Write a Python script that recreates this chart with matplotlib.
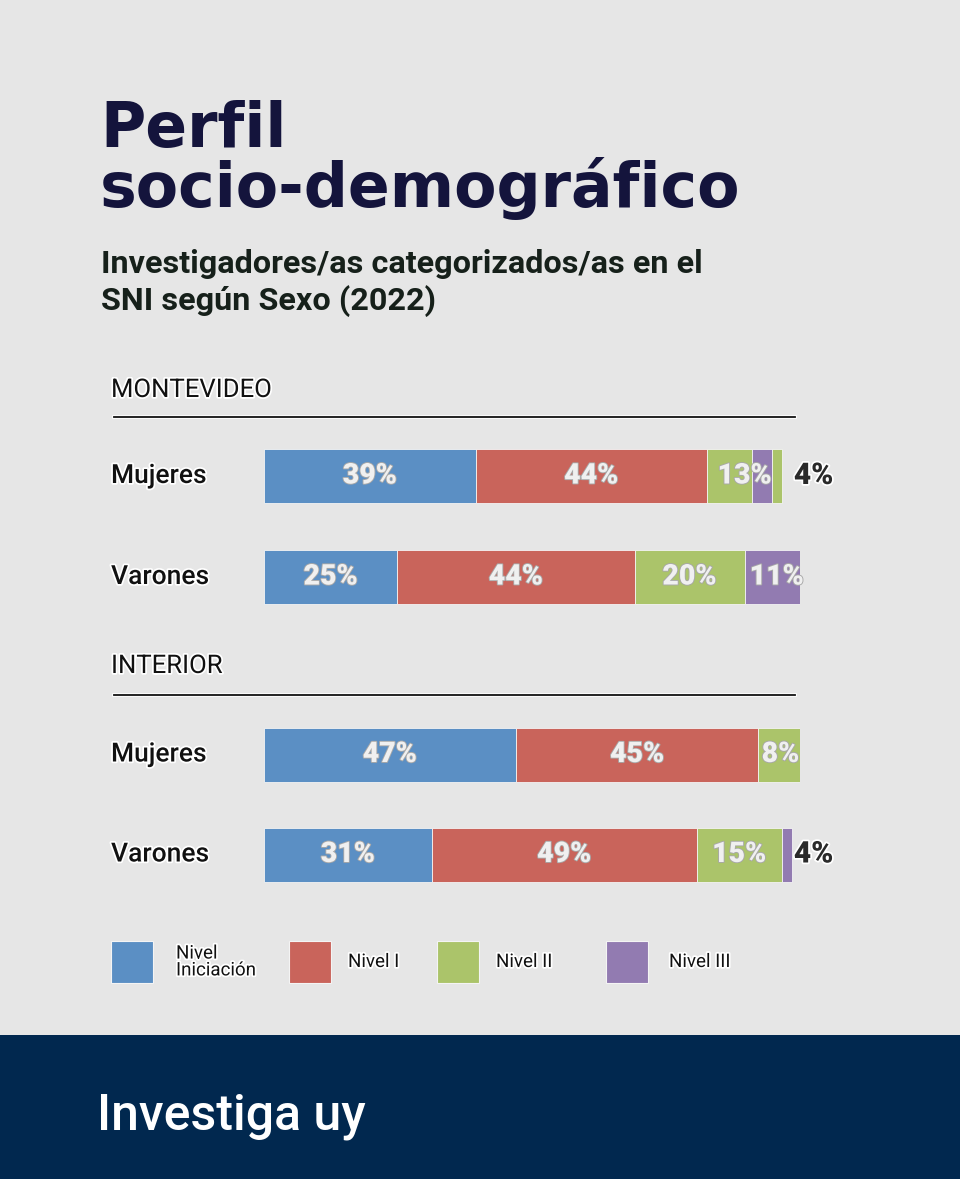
import matplotlib
matplotlib.use("Agg")
import matplotlib.pyplot as plt
from matplotlib.patches import Rectangle
import matplotlib.patheffects as pe

# ---------------- data ----------------
regions = ["MONTEVIDEO", "INTERIOR"]
sexes = ["Mujeres", "Varones"]
# bar segment lengths as drawn (percent), rows: MVD-Muj, MVD-Var, INT-Muj, INT-Var
iniciacion = [39.5, 24.9, 47.0, 31.3]
nivel_1 = [43.1, 44.2, 45.2, 49.4]
nivel_2 = [8.4, 20.5, 8.2, 15.8]
nivel_3 = [3.7, 10.4, 0.0, 1.9]
nivel_2_tail = [1.9, 0.0, 0.0, 0.0]   # extra green sliver drawn after Nivel III
# labels printed on the bars
lab_ini = ["39%", "25%", "47%", "31%"]
lab_n1 = ["44%", "44%", "45%", "49%"]
lab_n2 = ["13%", "20%", "8%", "15%"]
lab_n3 = ["4%", "11%", "", "4%"]
lab_n3_outside = [True, False, False, True]
legend_labels = ["Nivel\nIniciación", "Nivel I", "Nivel II", "Nivel III"]

title_lines = ["Perfil", "socio-demográfico"]
subtitle_lines = ["Investigadores/as categorizados/as en el", "SNI según Sexo (2022)"]
footer = "Investiga uy"

# ---------------- style ----------------
W, H = 960, 1179
BG = "#e6e6e6"
C_INI, C_N1, C_N2, C_N3 = "#5b8fc4", "#c9645b", "#abc46a", "#927bb1"
colors = [C_INI, C_N1, C_N2, C_N3]
NAVY = "#14143c"
FOOT = "#01284f"
TITLE_FONT = ["DejaVu Sans"]
COND_FONT = ["Roboto", "DejaVu Sans"]
HEAVY_FONT = ["Roboto", "DejaVu Sans"]


def fx(px):
    return px / W


def fy(py):
    return 1 - py / H


fig = plt.figure(figsize=(W / 100, H / 100), dpi=100, facecolor=BG)

halo = [pe.withStroke(linewidth=2.5, foreground="white")]

# title & subtitle
for line, yb in zip(title_lines, [147, 207]):
    fig.text(fx(100), fy(yb), line, fontsize=44.5, fontweight="bold",
             family=TITLE_FONT, color=NAVY, va="baseline", ha="left")
for line, yb in zip(subtitle_lines, [273, 310]):
    fig.text(fx(101), fy(yb), line, fontsize=23.3, fontweight="bold",
             family=COND_FONT, color="#16201a", va="baseline", ha="left")

# bars: two axes, one per region
x0_px, x100_px = 263.8, 800.3
row_centers = [[476, 577], [754.5, 854.5]]
header_base = [397, 673]
rule_y = [417, 695]
bar_h_px = 54

for r, region in enumerate(regions):
    c0, c1 = row_centers[r]
    sp = c1 - c0
    top = c0 - sp / 2
    bot = c1 + sp / 2
    ax = fig.add_axes([fx(x0_px), fy(bot), fx(x100_px) - fx(x0_px), (bot - top) / H])
    ax.set_xlim(0, 100)
    ax.set_ylim(1.5, -0.5)
    ax.axis("off")
    ax.patch.set_alpha(0)
    bh = bar_h_px / sp
    for j in range(2):
        i = r * 2 + j
        segs = [(iniciacion[i], C_INI), (nivel_1[i], C_N1), (nivel_2[i], C_N2),
                (nivel_3[i], C_N3), (nivel_2_tail[i], C_N2)]
        left = 0.0
        starts = []
        for val, col in segs:
            starts.append(left)
            if val > 0:
                ax.barh(j, val, left=left, height=bh, color=col,
                        edgecolor="#f4f4f4", linewidth=0.6)
            left += val
        total = left
        lab_kw = dict(ha="center", va="center", fontsize=20.5, fontweight="black",
                      family=HEAVY_FONT, color="#f0f0f0",
                      path_effects=[pe.withStroke(linewidth=1.3, foreground="#a8a8a8")])
        ax.text(starts[0] + iniciacion[i] / 2, j, lab_ini[i], **lab_kw)
        ax.text(starts[1] + nivel_1[i] / 2, j, lab_n1[i], **lab_kw)
        if nivel_2_tail[i] > 0:
            cx = (starts[2] + total) / 2
        else:
            cx = starts[2] + nivel_2[i] / 2
        ax.text(cx, j, lab_n2[i], **lab_kw)
        if lab_n3[i]:
            if lab_n3_outside[i]:
                ax.text(98.8, j, lab_n3[i], ha="left", va="center", fontsize=21.5,
                        fontweight="black", family=HEAVY_FONT, color="#2a2a2a",
                        path_effects=[pe.withStroke(linewidth=2.5, foreground="white")])
            else:
                ax.text(starts[3] + nivel_3[i] / 2 + 0.8, j, lab_n3[i], **lab_kw)
        # row label
        fig.text(fx(111), fy(row_centers[r][j]), sexes[j], fontsize=19,
                 fontweight="medium", family=COND_FONT,
                 color="#111111", ha="left", va="center", path_effects=halo)
    # region header and rule
    fig.text(fx(111), fy(header_base[r]), region, fontsize=18.5,
             family=COND_FONT, color="#111111", ha="left",
             va="baseline", path_effects=halo)
    fig.add_artist(plt.Line2D([fx(114), fx(795)], [fy(rule_y[r]), fy(rule_y[r])],
                              color="#111111", linewidth=1.3,
                              path_effects=[pe.withStroke(linewidth=2.6, foreground="white")]))

# legend
sq_x = [111, 289, 437, 606]
tx_x = [176, 348, 496, 669]
sq_top, sq_size = 941, 42
for k, lab in enumerate(legend_labels):
    fig.add_artist(Rectangle((fx(sq_x[k]), fy(sq_top + sq_size)), sq_size / W, sq_size / H,
                             transform=fig.transFigure, facecolor=colors[k],
                             edgecolor="#f4f4f4", linewidth=0.8))
    fig.text(fx(tx_x[k]), fy(sq_top + sq_size / 2), lab, fontsize=13.5,
             family=COND_FONT, color="#111111", ha="left",
             va="center", linespacing=0.92, path_effects=halo)

# footer band
fig.add_artist(Rectangle((0, 0), 1, fy(1035), transform=fig.transFigure,
                         facecolor=FOOT, edgecolor="none"))
fig.text(fx(97), fy(1130), footer, fontsize=36, fontweight="medium",
         family=COND_FONT, color="white", ha="left", va="baseline")

fig.savefig("out.png", dpi=100, facecolor=BG)
